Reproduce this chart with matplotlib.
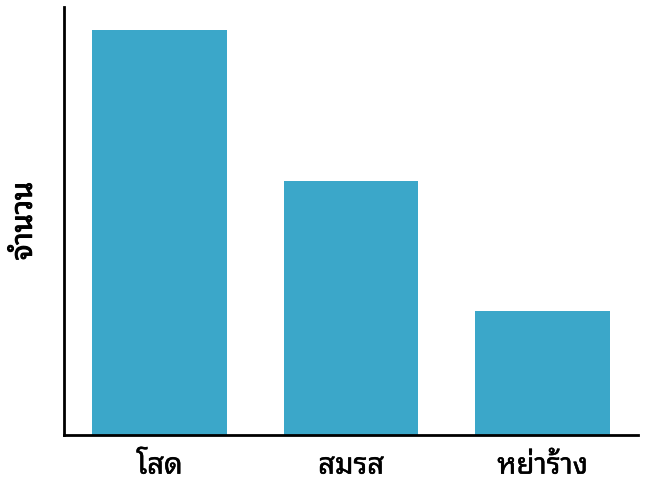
import matplotlib
matplotlib.use("Agg")
import matplotlib.pyplot as plt
import matplotlib.patheffects as pe

plt.rcParams["font.family"] = ["Noto Sans Thai Looped", "Noto Sans", "DejaVu Sans"]

categories = ["โสด", "สมรส", "หย่าร้าง"]
counts = [32, 20.1, 9.8]
ylabel = "จำนวน"

fig, ax = plt.subplots(figsize=(6.5, 4.85), dpi=100)
ax.bar(range(len(categories)), counts, width=0.7, color="#3ba7c9")

ax.set_xlim(-0.5, 2.5)
ax.set_ylim(0, 33.8)
ax.set_xticks(range(len(categories)))
ax.set_xticklabels(categories, fontsize=21)
ax.set_yticks([])
ax.tick_params(axis="x", length=0, pad=12)
ax.set_ylabel(ylabel, fontsize=21, labelpad=18)

# thicken the strokes a bit, font has only one weight
for t in ax.get_xticklabels():
    t.set_path_effects([pe.withStroke(linewidth=0.35, foreground="black")])
ax.yaxis.label.set_path_effects([pe.withStroke(linewidth=0.8, foreground="black")])

for s in ["top", "right"]:
    ax.spines[s].set_visible(False)
for s in ["left", "bottom"]:
    ax.spines[s].set_linewidth(2)

fig.subplots_adjust(left=0.098, right=0.982, top=0.983, bottom=0.101)
fig.savefig("out.png", dpi=100)
